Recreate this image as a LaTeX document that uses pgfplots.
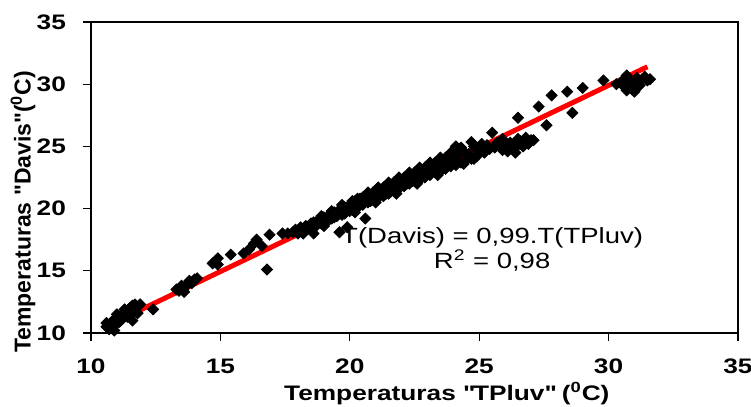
\documentclass[border=0pt]{standalone}
\usepackage{fontspec}
\setmainfont{Liberation Sans}
\newfontfamily\widesans[FakeStretch=1.25]{Liberation Sans}
\usepackage{pgfplots}
\pgfplotsset{compat=1.18}

\begin{document}
\begin{tikzpicture}
\useasboundingbox (-45.5pt,-37pt) rectangle (330pt,166.5pt);
\begin{axis}[
  at={(0,0)}, anchor=south west,
  scale only axis,
  width=323.5pt, height=155.5pt,
  xmin=10, xmax=35, ymin=10, ymax=35,
  xtick={10,15,...,35}, ytick={10,15,...,35},
  axis line style={line width=1.1pt},
  tick align=outside, tick pos=left,
  major tick length=4pt,
  tick style={black, line width=0.6pt},
  /pgf/number format/assume math mode=true,
  ticklabel style={font=\widesans\fontsize{10.5}{12}\selectfont\bfseries},
  xticklabel style={yshift=-5.5pt},
  yticklabel style={xshift=-5pt},
  xlabel={Temperaturas \textquotedbl TPluv\textquotedbl\ (\textsuperscript{0}C)},
  ylabel={Temperaturas \textquotedbl Davis\textquotedbl(\textsuperscript{0}C)},
  xlabel style={font=\widesans\fontsize{10.5}{12}\selectfont\bfseries,
    at={(axis description cs:0.55,0)}, anchor=center, yshift=-30.5pt},
  ylabel style={font=\fontsize{11.5}{13}\selectfont\bfseries,
    at={(axis description cs:0,0.39)}, anchor=center, yshift=34pt},
  clip=false,
]
% observed pairs (TPluv, Davis)
\addplot[only marks, mark=square*, mark size=1.95pt,
  mark options={rotate=45, fill=black, draw=black}] coordinates {
  (10.6,10.5) (10.7,10.6) (10.8,10.9) (10.9,11.0) (10.7,10.3) (10.8,10.4)
  (11.0,11.2) (11.1,11.3) (11.0,10.8) (11.2,11.5) (11.3,11.6) (11.2,11.1)
  (11.4,11.8) (11.5,12.0) (11.6,12.2) (11.7,12.3) (11.8,12.1) (11.9,12.3)
  (11.6,11.0) (11.5,11.3) (11.8,11.6) (12.4,11.9) (11.0,11.5) (10.9,10.6)
  (11.3,11.9) (11.7,11.8) (11.4,11.3) (10.6,10.8) (11.1,10.9) (10.9,10.2)
  (13.3,13.5) (13.5,13.7) (13.6,13.6) (13.7,13.9) (13.8,14.2) (13.9,14.0)
  (14.0,14.3) (14.1,14.4) (13.6,13.3) (13.5,13.8) (13.4,13.4)
  (14.7,15.6) (14.9,16.0) (14.9,15.5) (15.4,16.3) (15.9,16.4) (16.1,16.7)
  (16.3,17.2) (16.4,17.5) (16.6,17.0) (16.9,17.9) (16.8,15.1) (17.4,18.0)
  (17.6,18.0) (17.8,18.1) (17.9,18.3) (18.0,18.0) (18.1,18.5) (18.2,18.0)
  (18.3,18.6) (18.4,18.4) (18.5,18.8) (18.6,18.0) (18.6,18.9) (18.7,18.6)
  (18.8,19.1) (18.9,18.8) (19.0,19.3) (19.1,19.0) (19.2,19.5) (19.3,19.2)
  (19.4,19.7) (19.5,19.4) (19.6,18.1) (19.6,19.9) (19.7,19.5) (19.8,20.1)
  (19.9,18.5) (19.9,19.8) (20.0,20.3) (20.1,19.9) (20.2,20.6) (20.3,20.1)
  (20.4,20.8) (20.5,20.3) (20.6,19.2) (20.6,21.0) (20.7,20.5) (20.8,21.1)
  (20.9,20.7) (21.0,21.3) (21.1,20.9) (21.2,21.5) (21.3,21.0) (21.4,21.6)
  (21.5,21.2) (21.6,21.8) (21.7,21.4) (21.8,22.0) (21.9,21.6) (22.0,22.2)
  (22.1,21.8) (22.2,22.4) (22.3,22.0) (22.4,22.6) (22.5,22.2) (22.6,22.8)
  (22.7,22.3) (22.8,23.0) (22.9,22.5) (23.0,23.2) (23.1,22.7) (23.2,23.4)
  (23.3,22.9) (23.4,23.5) (23.5,23.0) (23.6,23.8) (23.7,23.2) (23.8,23.9)
  (23.9,23.4) (24.0,24.1) (24.1,23.5) (24.2,24.3) (24.3,23.7) (24.4,24.6)
  (24.5,23.9) (24.6,24.4) (24.7,24.0) (24.8,25.0) (24.9,24.2) (25.0,24.6)
  (19.2,19.1) (19.4,19.3) (19.8,19.6) (20.0,19.8) (20.2,20.2) (20.4,20.3)
  (20.8,20.6) (21.0,20.8) (21.2,21.1) (21.4,21.2) (21.6,21.4) (21.8,21.5)
  (22.0,21.9) (22.2,22.0) (22.4,22.2) (22.6,22.4) (22.8,22.6) (23.0,22.8)
  (23.2,23.0) (23.4,23.1) (23.6,23.3) (23.8,23.5) (24.0,23.7) (24.2,23.9)
  (20.1,20.6) (20.5,20.9) (20.9,21.3) (21.3,21.7) (21.7,22.1) (22.1,22.5)
  (22.5,22.9) (22.9,23.3) (23.3,23.7) (23.7,24.1) (24.1,25.0) (24.7,25.35)
  (18.9,19.4) (19.3,19.8) (19.7,20.3) (20.3,20.8) (20.7,21.3) (21.1,21.7)
  (21.5,22.1) (21.9,22.5) (22.3,22.9) (22.7,23.3) (23.1,23.7) (23.5,24.1)
  (23.9,24.5) (24.3,24.9) (21.0,20.5) (21.8,21.2) (22.6,22.0) (23.4,22.7)
  (24.4,23.6) (24.8,24.0) (20.2,19.7) (19.0,18.6)
  (25.2,24.5) (25.4,24.8) (25.5,26.1) (25.6,24.9) (25.8,25.0) (25.9,24.7)
  (26.0,25.2) (26.2,25.3) (26.3,25.0) (26.5,25.6) (26.6,25.4) (26.8,25.7)
  (26.9,25.2) (27.0,25.5) (26.4,24.9) (26.1,24.6) (25.7,25.3) (25.3,25.1)
  (26.7,25.0) (26.4,24.5) (27.1,25.5) (25.1,25.2) (25.9,25.6)
  (26.5,27.3) (27.3,28.2) (27.6,26.7) (27.8,29.1) (28.4,29.4) (29.0,29.7)
  (28.6,27.7) (29.8,30.3) (30.3,30.0) (30.7,30.7) (30.6,29.8) (30.8,30.3)
  (30.9,29.6) (31.0,30.1) (31.1,30.5) (31.2,29.9) (31.3,30.4) (31.4,30.6)
  (31.5,30.3) (31.6,30.4) (30.7,29.5) (31.0,29.4) (30.5,30.2) (31.2,30.2)
};
% regression line
\addplot[red, line width=2.5pt] coordinates {(10.5,10.45) (31.5,31.4)};
\node[align=center, font=\widesans\fontsize{11}{12.5}\selectfont] at (axis cs:25.5,16.7)
  {T(Davis) = 0,99.T(TPluv)\\R\textsuperscript{2} = 0,98};
\end{axis}
\end{tikzpicture}
\end{document}
